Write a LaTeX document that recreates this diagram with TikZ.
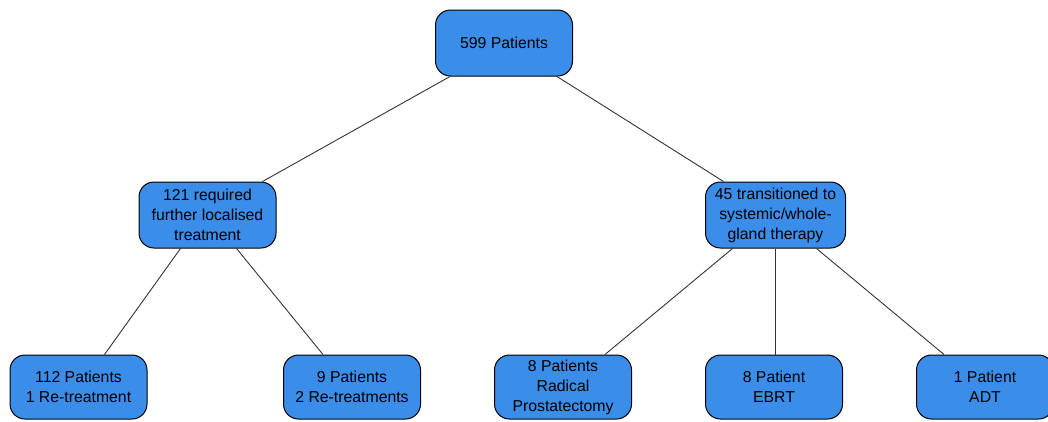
\documentclass[tikz,border=0pt]{standalone}
\usepackage{fontspec}
\setmainfont{Liberation Sans}
\usepackage{tikz}
\usetikzlibrary{calc}

\definecolor{boxblue}{HTML}{3B8DEA}
\definecolor{linegray}{HTML}{333333}

\tikzset{
	patientbox/.style={draw=black, fill=boxblue, line width=1pt, rounded corners=15pt,
		minimum width=137pt, minimum height=66pt, inner sep=0pt, align=center,
		font=\fontsize{15.8}{20}\selectfont},
	branch/.style={draw=linegray, line width=0.9pt}
}

\begin{document}
\begin{tikzpicture}[x=1pt, y=-1pt]
			\useasboundingbox (0,0) rectangle (1048,421);
			\clip (0,0) rectangle (1048,421);
			\def\yTop{43};
			\def\yMid{215};
			\def\yLow{387};

			% levels of the tree
			\node [patientbox] (all) at (504,\yTop) {599 Patients};

			\node [patientbox] (local) at (207.5,\yMid) {121 required\\further localised\\treatment};
			\node [patientbox, minimum width=140pt] (systemic) at (775.5,\yMid) {45 transitioned to\\systemic/whole-\\gland therapy};

			\node [patientbox, minimum height=64pt] (single) at (78.5,\yLow) {112 Patients\\1 Re-treatment};
			\node [patientbox, minimum height=64pt] (double) at (352,\yLow) {9 Patients\\2 Re-treatments};
			\node [patientbox, minimum height=64pt] (rp) at (563,\yLow) {8 Patients\\Radical\\Prostatectomy};
			\node [patientbox, minimum height=64pt] (ebrt) at (774,\yLow) {8 Patient\\EBRT};
			\node [patientbox, minimum height=64pt] (adt) at (985,\yLow) {1 Patient\\ADT};

			% connectors
			\begin{scope}[branch]
				\draw ([xshift=-54pt]all.south) -- ([xshift=55pt]local.north);
				\draw ([xshift=53pt]all.south) -- ([xshift=-52pt]systemic.north);

				\draw ([xshift=-27pt]local.south) -- ([xshift=26pt]single.north);
				\draw ([xshift=29pt]local.south) -- ([xshift=-29pt]double.north);

				\draw ([xshift=-43pt]systemic.south) -- ([xshift=42pt]rp.north);
				\draw (systemic.south) -- (systemic.south |- ebrt.north);
				\draw ([xshift=41pt]systemic.south) -- ([xshift=-41pt]adt.north);
			\end{scope}
		\end{tikzpicture}
\end{document}
